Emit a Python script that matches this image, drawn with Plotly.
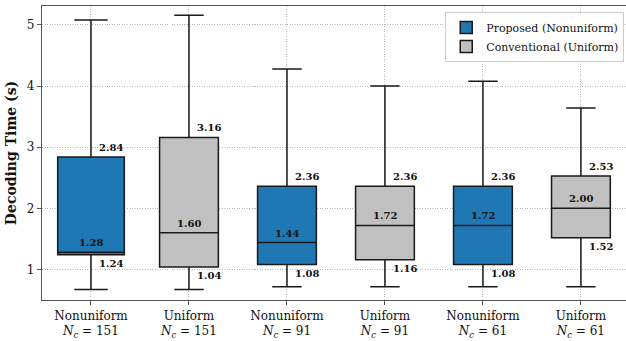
import plotly.graph_objects as go

# Decoding-time summary statistics per configuration
positions = [0, 1, 2, 3, 4, 5]
methods = ["Nonuniform", "Uniform", "Nonuniform", "Uniform", "Nonuniform", "Uniform"]
n_c = [151, 151, 91, 91, 61, 61]
lower_whisker = [0.67, 0.67, 0.715, 0.715, 0.715, 0.715]
q1 = [1.24, 1.04, 1.08, 1.16, 1.08, 1.52]
median = [1.28, 1.60, 1.44, 1.72, 1.72, 2.00]
q3 = [2.84, 3.16, 2.36, 2.36, 2.36, 2.53]
upper_whisker = [5.08, 5.16, 4.28, 4.00, 4.08, 3.64]

BLUE = "#1f77b4"
GRAY = "#c0c0c0"
FONT = "DejaVu Serif"

fig = go.Figure()


def add_boxes(idx, color, name, showlegend, width):
    fig.add_trace(go.Box(
        x=[positions[i] for i in idx],
        q1=[q1[i] for i in idx],
        median=[median[i] for i in idx],
        q3=[q3[i] for i in idx],
        lowerfence=[lower_whisker[i] for i in idx],
        upperfence=[upper_whisker[i] for i in idx],
        fillcolor=color,
        line=dict(color="#1a1a1a", width=1.5),
        width=width,
        whiskerwidth=0.5,
        boxpoints=False,
        name=name,
        legendgroup=name,
        showlegend=showlegend,
    ))


add_boxes([0], BLUE, "Proposed (Nonuniform)", False, 0.68)
add_boxes([2, 4], BLUE, "Proposed (Nonuniform)", True, 0.6)
add_boxes([1, 3, 5], GRAY, "Conventional (Uniform)", True, 0.6)

# Value labels: Q3 above-right, median centred above, Q1 below-right
lab_font = dict(family=FONT, size=10, color="#111")
for i, p in enumerate(positions):
    fig.add_annotation(x=p + 0.06, y=q3[i], text=f"<b>{q3[i]:.2f}</b>",
                       xanchor="left", yanchor="bottom", yshift=2,
                       showarrow=False, font=lab_font)
    fig.add_annotation(x=p, y=median[i], text=f"<b>{median[i]:.2f}</b>",
                       xanchor="center", yanchor="bottom", yshift=2,
                       showarrow=False, font=lab_font)
    fig.add_annotation(x=p + 0.06, y=q1[i], text=f"<b>{q1[i]:.2f}</b>",
                       xanchor="left", yanchor="top", yshift=-1,
                       showarrow=False, font=lab_font)

tick_text = [f"{m}<br><i>N<sub>c</sub></i> = {n}" for m, n in zip(methods, n_c)]

grid = dict(showgrid=True, gridcolor="#b8b8b8", griddash="1px,1.5px", gridwidth=0.8)
axis_common = dict(showline=True, linecolor="#555", linewidth=1.2,
                   ticks="outside", ticklen=4, tickcolor="#555", zeroline=False,
                   tickfont=dict(family=FONT, size=12))

fig.update_layout(
    width=626, height=341,
    margin=dict(l=42, r=0, t=6, b=41),
    paper_bgcolor="white", plot_bgcolor="white",
    boxmode="overlay",
    font=dict(family=FONT, size=12, color="#111"),
    legend=dict(
        x=0.997, y=0.98, xanchor="right", yanchor="top",
        bgcolor="rgba(255,255,255,0.85)", bordercolor="#cccccc", borderwidth=1,
        font=dict(family=FONT, size=11), tracegroupgap=0,
    ),
    xaxis=dict(range=[-0.5, 5.46], tickvals=positions, ticktext=tick_text,
               mirror=True, **grid, **axis_common),
    yaxis=dict(
        range=[0.5, 5.31], tickvals=[1, 2, 3, 4, 5], mirror=False, **grid, **axis_common,
        title=dict(text="<b>Decoding Time (s)</b>", font=dict(family=FONT, size=14), standoff=6),
    ),
)

fig.write_html("out.html")
